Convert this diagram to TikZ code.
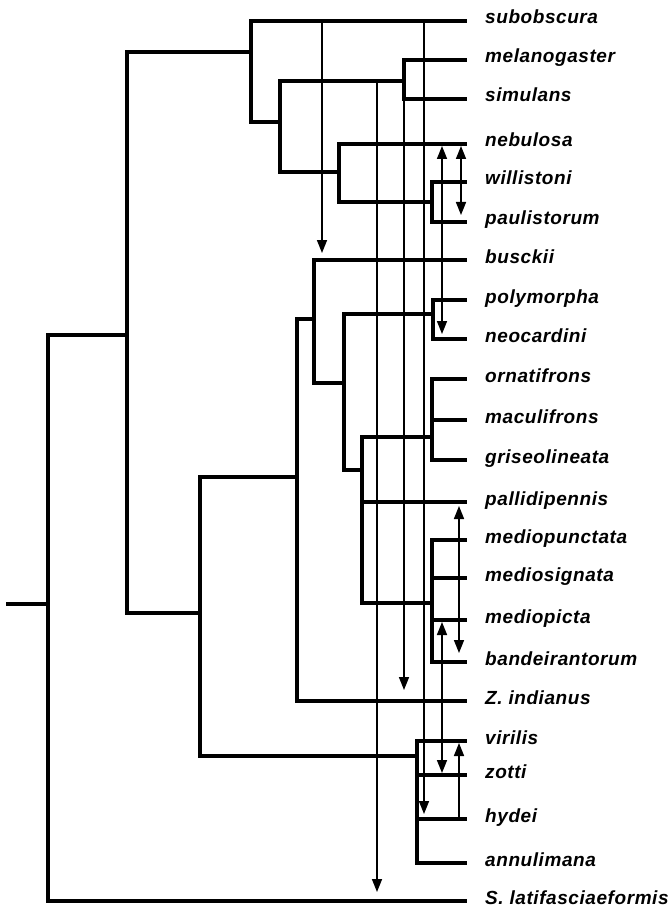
\documentclass[tikz,border=0pt]{standalone}
\usepackage{fontspec}
\setmainfont{Liberation Sans}
\usetikzlibrary{arrows.meta}
\begin{document}
\begin{tikzpicture}[x=1pt,y=-1pt,
  tree/.style={line width=3.1pt, line cap=rect, line join=miter},
  arr/.style={line width=1.6pt, -{Triangle[length=13pt,width=10pt]}},
  darr/.style={line width=1.6pt, {Triangle[length=13pt,width=10pt]}-{Triangle[length=13pt,width=10pt]}},
  lbl/.style={anchor=base west, inner sep=0pt, font=\addfontfeatures{LetterSpace=3}\fontsize{19}{22}\selectfont\bfseries\itshape}]
\useasboundingbox (0,0) rectangle (669,909);
% leaves
\foreach \n/\y/\t in {sub/21/subobscura, mel/60/melanogaster, sim/99/simulans,
  neb/144/nebulosa, wil/182/willistoni, pau/222/paulistorum, bus/260/busckii,
  pol/300/polymorpha, neo/339/neocardini, orn/379/ornatifrons, mac/420/maculifrons,
  gri/460/griseolineata, pal/502/pallidipennis, mpu/540/mediopunctata,
  msi/578/mediosignata, mpi/620/mediopicta, ban/662/bandeirantorum,
  zin/701/Z. indianus, vir/741/virilis, zot/775/zotti, hyd/819/hydei,
  ann/863/annulimana, sla/901/S. latifasciaeformis}{
  \coordinate (t-\n) at (465,\y);
  \node[lbl] (\n) at (485,\y+3) {\t};
}
% internal nodes
\coordinate (nMS) at (404,81);
\coordinate (nWP) at (432,202);
\coordinate (nNWP) at (339,172);
\coordinate (nA) at (280,122);
\coordinate (nSub) at (251,52);
\coordinate (nPN) at (433,314);
\coordinate (nOMG) at (432,437);
\coordinate (nMed) at (432,603);
\coordinate (nC) at (362,470);
\coordinate (nB) at (344,383);
\coordinate (nBus) at (314,319);
\coordinate (nD) at (297,477);
\coordinate (nVir) at (417,756);
\coordinate (nE) at (200,613);
\coordinate (nTop) at (127,335);
\coordinate (root) at (48,604);
\coordinate (stub) at (8,604);
% tree
\draw[tree] (nMS) |- (t-mel) (nMS) |- (t-sim);
\draw[tree] (nWP) |- (t-wil) (nWP) |- (t-pau);
\draw[tree] (nNWP) |- (t-neb) (nNWP) |- (nWP);
\draw[tree] (nA) |- (nMS) (nA) |- (nNWP);
\draw[tree] (nSub) |- (t-sub) (nSub) |- (nA);
\draw[tree] (nPN) |- (t-pol) (nPN) |- (t-neo);
\draw[tree] (nOMG) |- (t-orn) (nOMG) |- (t-mac) (nOMG) |- (t-gri);
\draw[tree] (nMed) |- (t-mpu) (nMed) |- (t-msi) (nMed) |- (t-mpi) (nMed) |- (t-ban);
\draw[tree] (nC) |- (nOMG) (nC) |- (t-pal) (nC) |- (nMed);
\draw[tree] (nB) |- (nPN) (nB) |- (nC);
\draw[tree] (nBus) |- (t-bus) (nBus) |- (nB);
\draw[tree] (nD) |- (nBus) (nD) |- (t-zin);
\draw[tree] (nVir) |- (t-vir) (nVir) |- (t-zot) (nVir) |- (t-hyd) (nVir) |- (t-ann);
\draw[tree] (nE) |- (nD) (nE) |- (nVir);
\draw[tree] (nTop) |- (nSub) (nTop) |- (nE);
\draw[tree] (root) |- (nTop) (root) |- (t-sla);
\draw[tree] (stub) -- (root);
% arrows
\coordinate (a1s) at (322,21);  \coordinate (a1e) at (322,253);
\coordinate (a2s) at (377,81);  \coordinate (a2e) at (377,892);
\coordinate (a3s) at (404,99);  \coordinate (a3e) at (404,690);
\coordinate (a4s) at (424,21);  \coordinate (a4e) at (424,814);
\coordinate (a5s) at (442,146); \coordinate (a5e) at (442,334);
\coordinate (a6s) at (461,146); \coordinate (a6e) at (461,215);
\coordinate (a7s) at (459,506); \coordinate (a7e) at (459,653);
\coordinate (a8s) at (442,622); \coordinate (a8e) at (442,773);
\coordinate (a9s) at (459,819); \coordinate (a9e) at (459,743);
\draw[arr] (a1s) -- (a1e);
\draw[arr] (a2s) -- (a2e);
\draw[arr] (a3s) -- (a3e);
\draw[arr] (a4s) -- (a4e);
\draw[darr] (a5s) -- (a5e);
\draw[darr] (a6s) -- (a6e);
\draw[darr] (a7s) -- (a7e);
\draw[darr] (a8s) -- (a8e);
\draw[arr] (a9s) -- (a9e);
\end{tikzpicture}
\end{document}
